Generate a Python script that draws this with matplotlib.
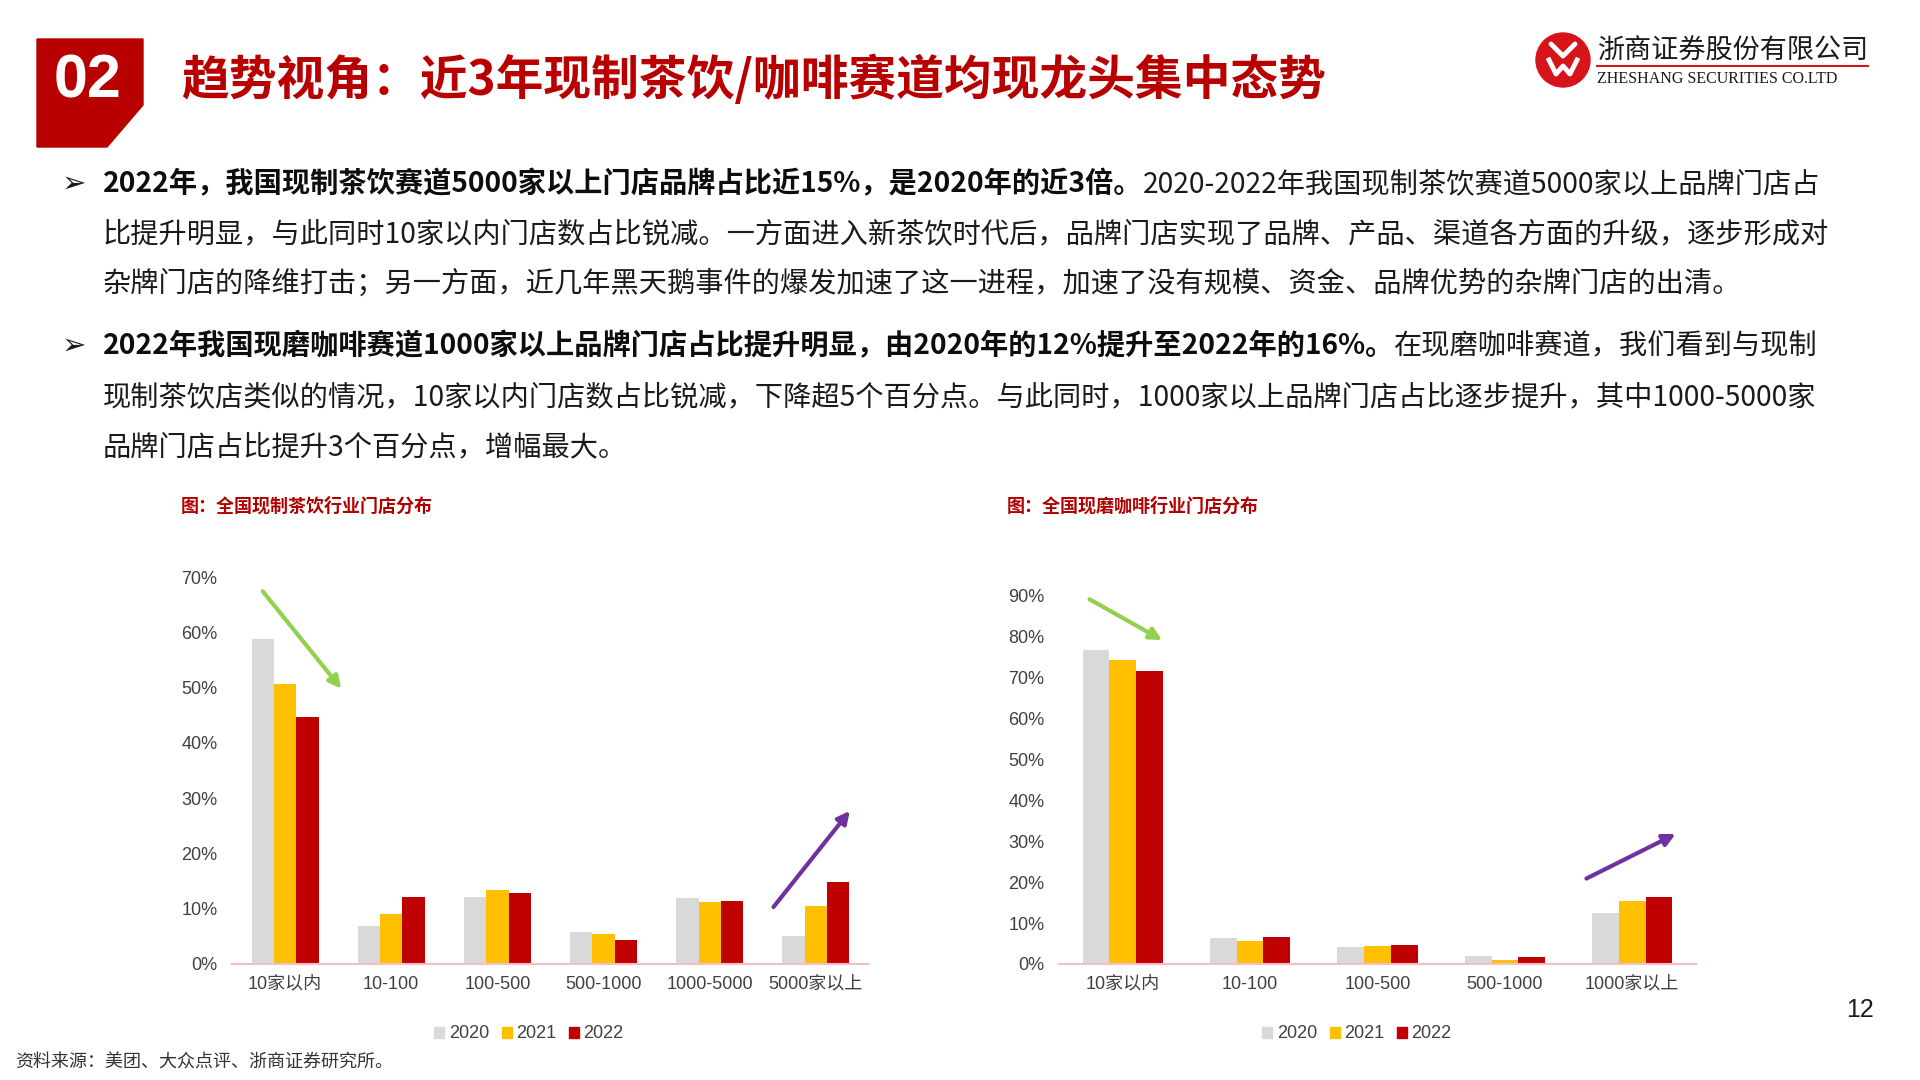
import matplotlib
matplotlib.use("Agg")
import matplotlib.pyplot as plt
import matplotlib.ticker as mtick
from matplotlib.patches import Polygon, Circle, Patch
import numpy as np

plt.rcParams['font.family'] = ['Noto Sans CJK SC', 'DejaVu Sans']

# ---- data ----
years = ['2020', '2021', '2022']
year_colors = ['#D9D9D9', '#FFC000', '#C00000']

tea_cats = ['10家以内', '10-100', '100-500', '500-1000', '1000-5000', '5000家以上']
tea_2020 = [58.7, 6.9, 12.1, 5.7, 11.9, 5.0]
tea_2021 = [50.6, 9.0, 13.3, 5.4, 11.2, 10.5]
tea_2022 = [44.7, 12.1, 12.9, 4.3, 11.4, 14.8]

coffee_cats = ['10家以内', '10-100', '100-500', '500-1000', '1000家以上']
coffee_2020 = [76.9, 6.3, 4.2, 2.0, 12.5]
coffee_2021 = [74.4, 5.7, 4.5, 1.1, 15.4]
coffee_2022 = [71.6, 6.6, 4.7, 1.6, 16.5]

# trend arrows (start, end) in category / percent units
tea_arrows = [((-0.21, 67.4), (0.53, 49.8), '#92D050'),
              ((4.60, 10.3), (5.32, 27.7), '#7030A0')]
coffee_arrows = [((-0.26, 89.2), (0.31, 79.2), '#92D050'),
                 ((3.64, 20.9), (4.34, 31.8), '#7030A0')]

title = '趋势视角：近3年现制茶饮/咖啡赛道均现龙头集中态势'
body = [
    ('2022年，我国现制茶饮赛道5000家以上门店品牌占比近15%，是2020年的近3倍。',
     '2020-2022年我国现制茶饮赛道5000家以上品牌门店占'),
    ('', '比提升明显，与此同时10家以内门店数占比锐减。一方面进入新茶饮时代后，品牌门店实现了品牌、产品、渠道各方面的升级，逐步形成对'),
    ('', '杂牌门店的降维打击；另一方面，近几年黑天鹅事件的爆发加速了这一进程，加速了没有规模、资金、品牌优势的杂牌门店的出清。'),
    ('2022年我国现磨咖啡赛道1000家以上品牌门店占比提升明显，由2020年的12%提升至2022年的16%。',
     '在现磨咖啡赛道，我们看到与现制'),
    ('', '现制茶饮店类似的情况，10家以内门店数占比锐减，下降超5个百分点。与此同时，1000家以上品牌门店占比逐步提升，其中1000-5000家'),
    ('', '品牌门店占比提升3个百分点，增幅最大。'),
]
body_y = [184, 234, 284, 346, 397, 447]
bullet_y = [184, 346]

RED = '#C00000'
W, H = 1920, 1080
fig = plt.figure(figsize=(19.2, 10.8), dpi=100)

# background axes in pixel coordinates for the slide decorations
bg = fig.add_axes([0, 0, 1, 1], zorder=0)
bg.set_xlim(0, W)
bg.set_ylim(H, 0)
bg.axis('off')

bg.add_patch(Polygon([(37, 39), (143, 39), (143, 105), (107, 147), (37, 147)],
                     closed=True, color='#B80000'))
bg.text(88, 82, '02', color='white', fontsize=44, weight='bold',
        family=['Liberation Sans Narrow', 'Liberation Sans'], ha='center', va='center')
bg.text(181, 80, title, color='#B80000', fontsize=34.4, weight='heavy', va='center')

# logo
bg.add_patch(Circle((1563, 60), 27, color='#D7141A'))
bg.plot([1551, 1563, 1575], [44, 56, 44], color='white', lw=3.5, solid_capstyle='round')
bg.plot([1549, 1556, 1563, 1570, 1577], [60, 74, 66, 74, 60], color='white', lw=3.5,
        solid_joinstyle='round')
bg.text(1597, 51, '浙商证券股份有限公司', fontsize=19.5, va='center', color='#1A1A1A')
bg.plot([1597, 1868], [66, 66], color='#D7141A', lw=1.5)
bg.text(1597, 79, 'ZHESHANG SECURITIES CO.LTD', family='Liberation Serif',
        fontsize=11.5, va='center', color='#1A1A1A')

# bullet text
for y in bullet_y:
    bg.text(62, y, '➢', family='DejaVu Sans', fontsize=21, va='center', color='#1A1A1A')
for y, (bold_part, plain_part) in zip(body_y, body):
    if bold_part:
        t1 = bg.text(103, y, bold_part, fontsize=20.3, weight='bold', va='center', color='#0D0D0D')
        bg.annotate(plain_part, xy=(1, 0.5), xycoords=t1, fontsize=20.3, va='center',
                    ha='left', color='#1A1A1A')
    else:
        bg.text(103, y, plain_part, fontsize=20.3, va='center', color='#1A1A1A')

bg.text(15, 1063, '资料来源：美团、大众点评、浙商证券研究所。', fontsize=13, va='center', color='#333333')
bg.text(1860, 1010, '12', fontsize=18, ha='center', va='center', family='Liberation Sans', color='#1A1A1A')


def draw_chart(rect, cats, series, ymax, chart_title, title_xy, legend_xy, arrows):
    ax = fig.add_axes(rect, zorder=2)
    ax.patch.set_alpha(0)
    x = np.arange(len(cats))
    w = 0.21
    for i, (vals, c, lab) in enumerate(zip(series, year_colors, years)):
        ax.bar(x + (i - 1) * w, vals, width=w, color=c, label=lab, zorder=2)
    ax.set_xlim(-0.5, len(cats) - 0.5)
    ax.set_ylim(0, ymax)
    ax.set_yticks(np.arange(0, ymax + 1, 10))
    ax.yaxis.set_major_formatter(mtick.PercentFormatter(decimals=0))
    ax.set_xticks(x)
    ax.set_xticklabels(cats)
    for s in ['top', 'right', 'left']:
        ax.spines[s].set_visible(False)
    ax.spines['bottom'].set_color('#F4BCC6')
    ax.spines['bottom'].set_linewidth(1.5)
    ax.tick_params(length=0, labelsize=13, colors='#404040')
    ax.tick_params(axis='y', pad=10.5)
    ax.tick_params(axis='x', pad=8.5)
    for lbl in ax.get_xticklabels() + ax.get_yticklabels():
        lbl.set_family(['Liberation Sans', 'Noto Sans CJK SC'])

    for (x0, y0), (x1, y1), c in arrows:
        ax.annotate('', xy=(x1, y1), xytext=(x0, y0), annotation_clip=False,
                    arrowprops=dict(arrowstyle='-|>', color=c, lw=3, mutation_scale=18,
                                    shrinkA=0, shrinkB=0))

    bg.text(title_xy[0], title_xy[1], chart_title, fontsize=13, weight='bold',
            color='#B00000', va='center')
    handles = [Patch(color=c, label=l) for c, l in zip(year_colors, years)]
    leg = ax.legend(handles=handles, loc='center',
                    bbox_to_anchor=(legend_xy[0] / W, 1 - legend_xy[1] / H),
                    bbox_transform=fig.transFigure, ncol=3, frameon=False,
                    handlelength=0.55, handleheight=0.55, handletextpad=0.25,
                    columnspacing=0.7, prop={'family': 'Liberation Sans', 'size': 13})
    for t in leg.get_texts():
        t.set_color('#404040')
    return ax


draw_chart([232 / W, 1 - 964 / H, 637 / W, 387 / H], tea_cats,
           [tea_2020, tea_2021, tea_2022], 70, '图：全国现制茶饮行业门店分布',
           (181, 506), (529, 1034), tea_arrows)
draw_chart([1059 / W, 1 - 964 / H, 637 / W, 368 / H], coffee_cats,
           [coffee_2020, coffee_2021, coffee_2022], 90, '图：全国现磨咖啡行业门店分布',
           (1007, 506), (1357, 1034), coffee_arrows)

fig.savefig('out.png', dpi=100)
